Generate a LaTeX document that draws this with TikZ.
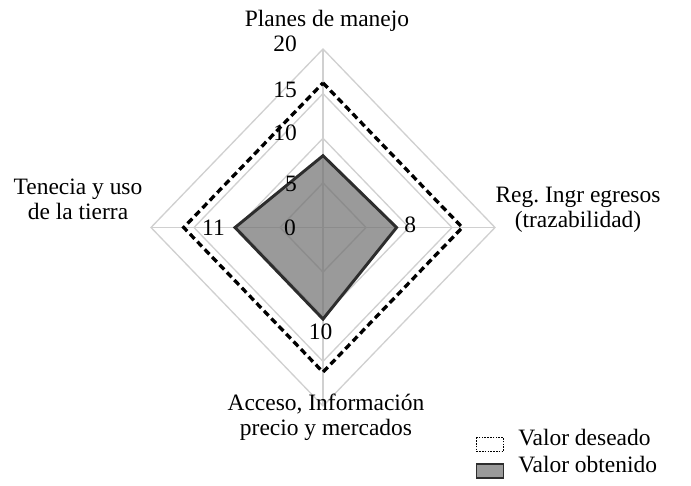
\documentclass[tikz,border=0pt]{standalone}
\usepackage{fontspec}
\setmainfont{Liberation Serif}
\definecolor{gridc}{RGB}{208,208,208}
\definecolor{gridin}{RGB}{140,140,140}
\definecolor{fillc}{RGB}{154,154,154}
\definecolor{linec}{RGB}{45,45,45}
\begin{document}
\begin{tikzpicture}[x=0.75pt,y=-0.75pt,
  lbl/.style={inner sep=0pt, font=\fontsize{17.6}{18.6}\selectfont},
  gridline/.style={draw=gridc, line width=1pt},
  desired/.style={draw=black, line width=2.5pt, dash pattern=on 5pt off 3pt},
  obtained/.style={draw=linec, line width=2.2pt, fill=fillc, line join=miter},
]
\useasboundingbox (0,0) rectangle (691,485);
% grid rings
\foreach \k in {0.25,0.5,0.75,1}
  \draw[gridline] (323,{227.5-178.5*\k}) -- ({323+172*\k},227.5) -- (323,{227.5+178.5*\k}) -- ({323-172*\k},227.5) -- cycle;
\draw[gridline] (323,49) -- (323,406);
\draw[gridline] (151,227.5) -- (495,227.5);
% obtained polygon
\coordinate (o1) at (323,155.7);
\coordinate (o2) at (396.6,227.5);
\coordinate (o3) at (323,319.1);
\coordinate (o4) at (235,227.5);
\fill[fillc] (o1) -- (o2) -- (o3) -- (o4) -- cycle;
\begin{scope}
  \clip (o1) -- (o2) -- (o3) -- (o4) -- cycle;
  \foreach \k in {0.25,0.5,0.75,1}
    \draw[draw=gridin, line width=1pt] (323,{227.5-178.5*\k}) -- ({323+172*\k},227.5) -- (323,{227.5+178.5*\k}) -- ({323-172*\k},227.5) -- cycle;
  \draw[draw=gridin, line width=1pt] (323,49) -- (323,406);
  \draw[draw=gridin, line width=1pt] (151,227.5) -- (495,227.5);
\end{scope}
\draw[obtained, fill=none] (o1) -- (o2) -- (o3) -- (o4) -- cycle;
% desired polygon
\draw[desired] (323,82.9) -- (462.3,227.5) -- (323,372.1) -- (183.7,227.5) -- cycle;
% tick labels
\node[lbl, anchor=base east] (t20) at (297,51) {20};
\node[lbl, anchor=base east] (t15) at (297,97) {15};
\node[lbl, anchor=base east] (t10) at (297,140) {10};
\node[lbl, anchor=base east] (t5) at (297,191) {5};
\node[lbl, anchor=base east] (t0) at (296,235) {0};
% data labels
\node[lbl, anchor=base east] (v11) at (225,235) {11};
\node[lbl, anchor=base west] (v8) at (404,232) {8};
\node[lbl, anchor=base] (v10) at (320.5,339) {10};
% axis labels
\node[lbl, anchor=base] (a1) at (327,27) {Planes de manejo};
\node[lbl, anchor=base, align=center] (a2) at (578,227) {Reg.\ Ingr egresos\\(trazabilidad)};
\node[lbl, anchor=base, align=center] (a3) at (326,435) {Acceso, Información\\precio y mercados};
\node[lbl, anchor=base, align=center] (a4) at (78,219.5) {Tenecia y uso\\de la tierra};
% legend
\draw[black, line width=0.6pt, dash pattern=on 1.2pt off 0.9pt] (476.7,437.3) rectangle (503.3,451.7);
\draw[linec, line width=1pt, fill=fillc] (476.7,464) rectangle (503.3,478);
\node[lbl, anchor=base west] (l1) at (518,445) {Valor deseado};
\node[lbl, anchor=base west] (l2) at (518,472) {Valor obtenido};
\end{tikzpicture}
\end{document}
